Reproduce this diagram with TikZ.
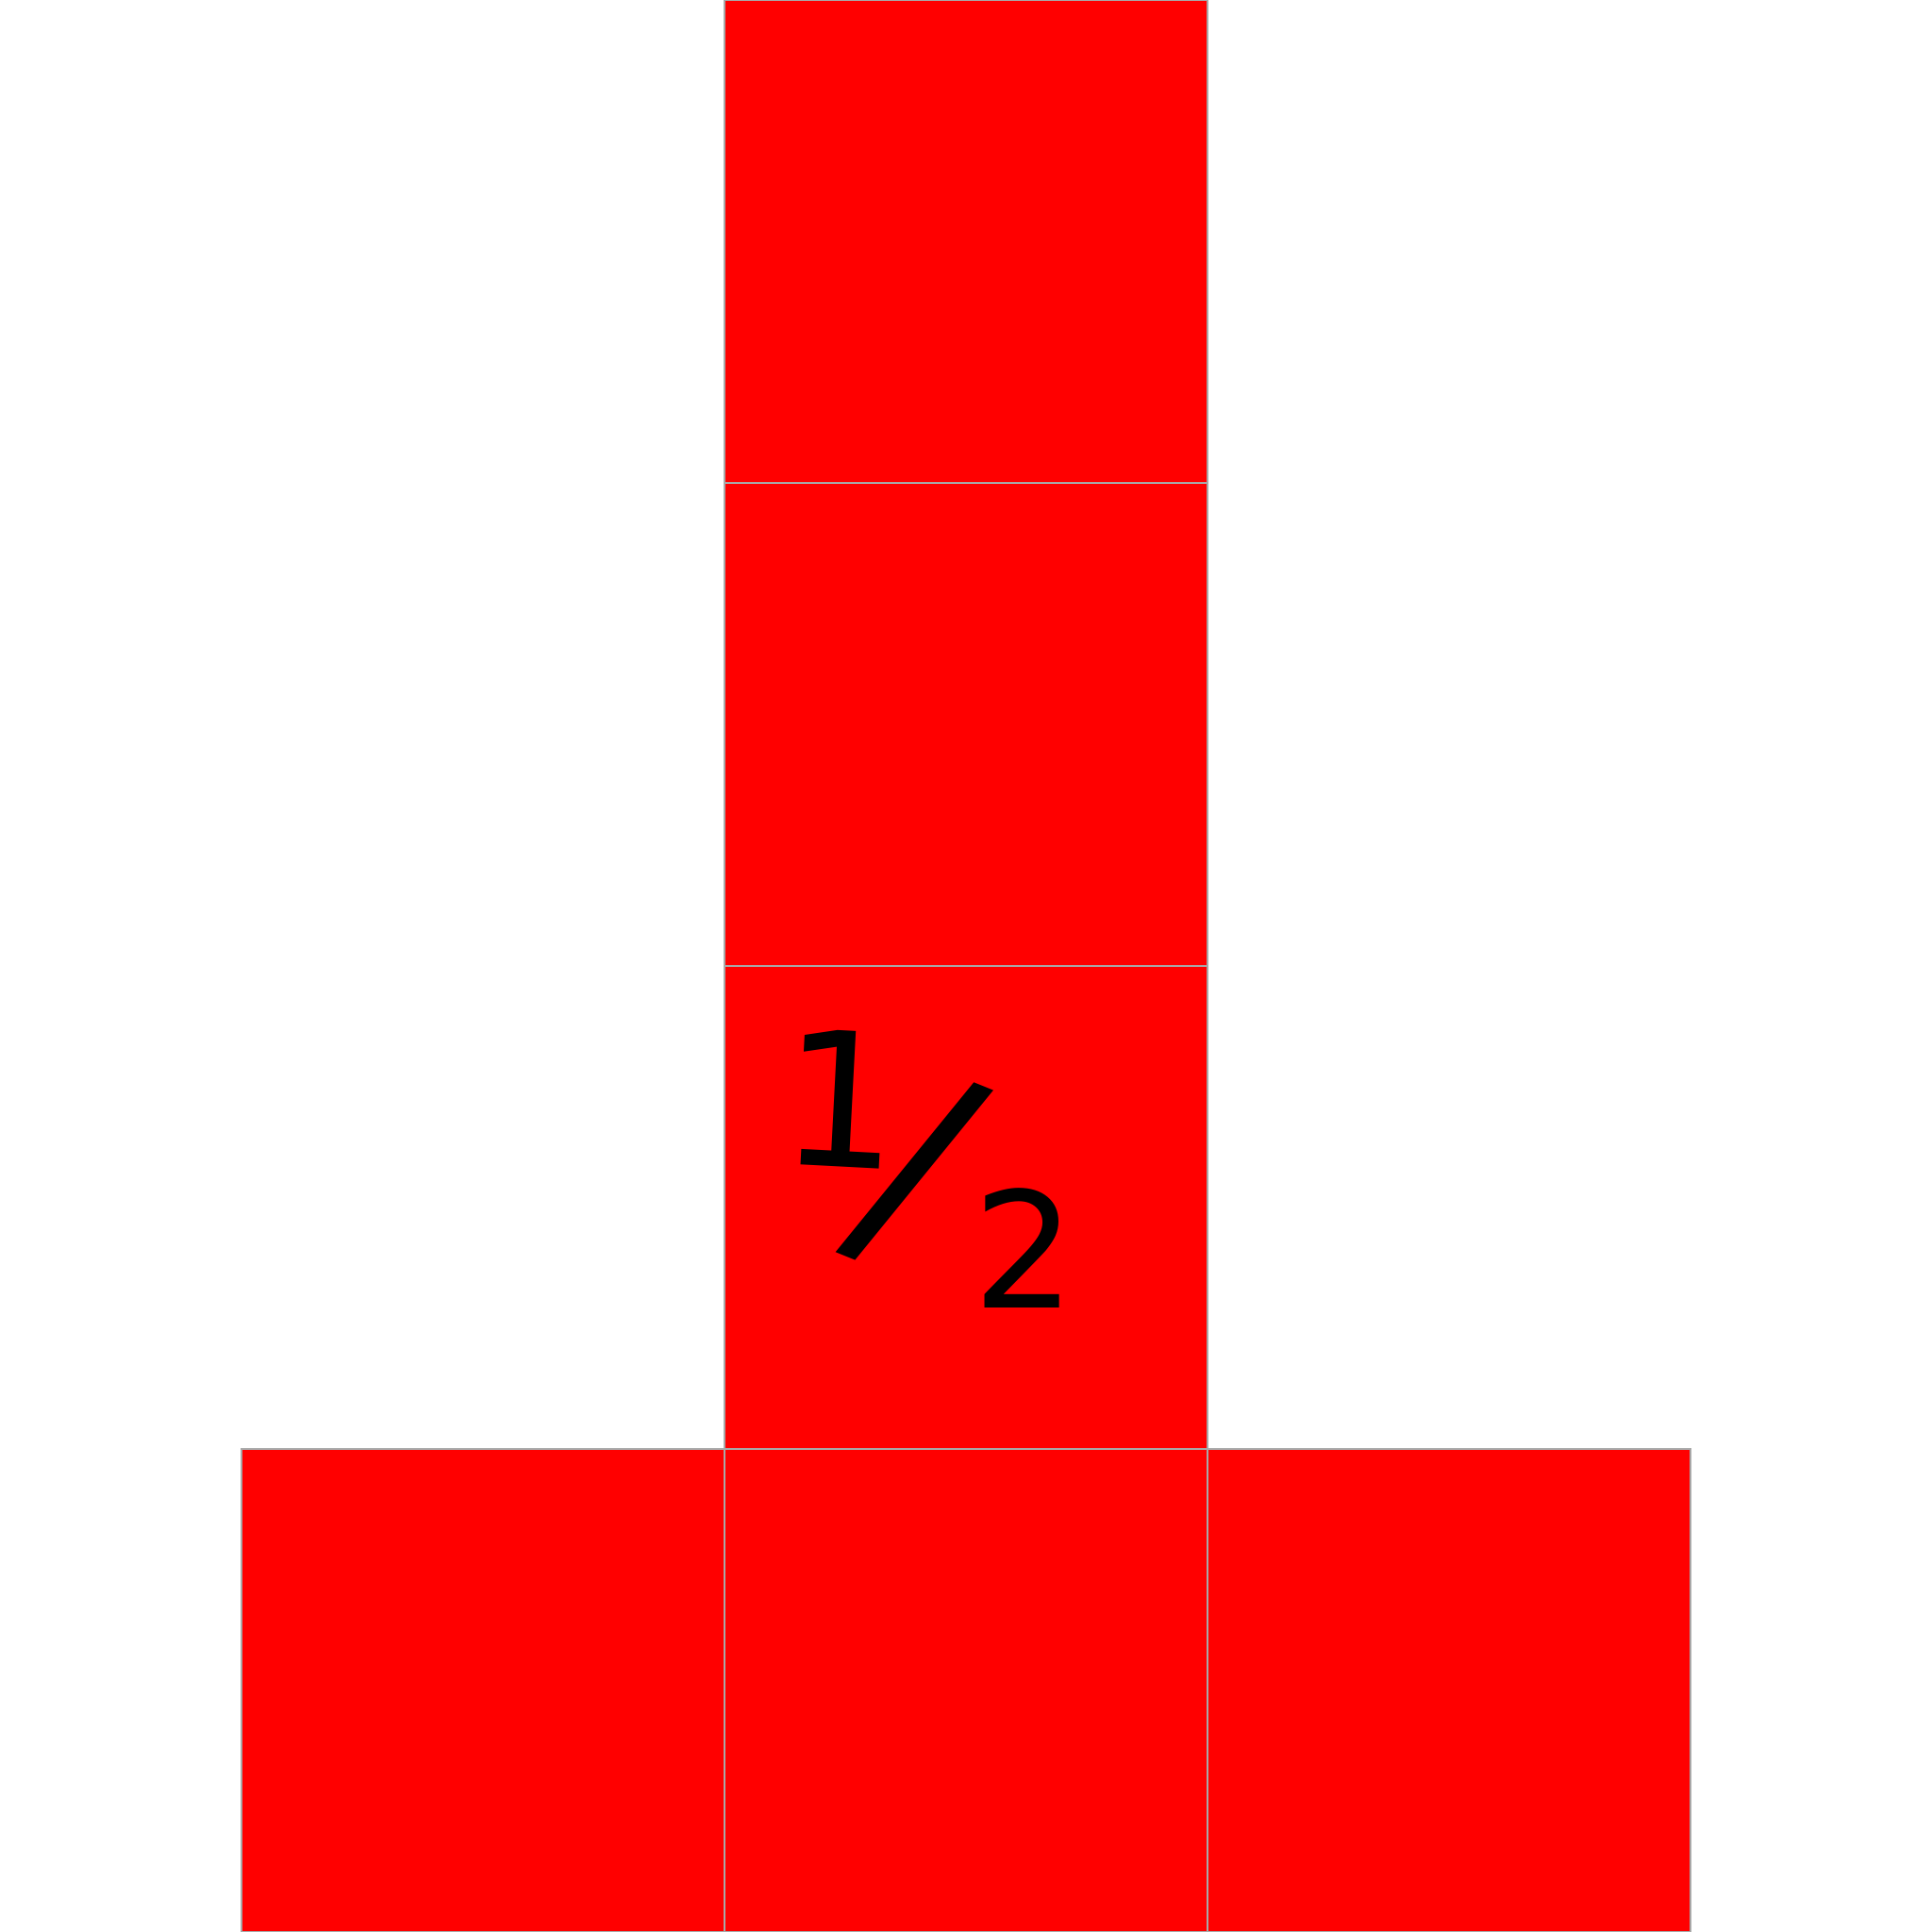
\documentclass[tikz,border=0pt]{standalone}
\usepackage{fontspec}
\newfontfamily\handfont{DejaVu Sans}
\usetikzlibrary{positioning}
\definecolor{cellRed}{HTML}{FF0000}
\definecolor{cellEdge}{HTML}{A8A8A8}

\begin{document}
\begin{tikzpicture}[node distance=0cm, every node/.style={inner sep=0pt, outer sep=0pt},
    cell/.style={draw=cellEdge, line width=0.3pt, fill=cellRed, minimum size=2cm},
    hand/.style={font=\handfont, text=black}]
    \useasboundingbox (0,0) rectangle (8,8);
    % bottom row
    \node[cell] (base) at (4,1) {};
    \node[cell, left=of base] (baseL) {};
    \node[cell, right=of base] (baseR) {};
    % the column
    \node[cell, above=of base] (half) {};
    \node[cell, above=of half] (upper) {};
    \node[cell, above=of upper] (top) {};
    % the fraction in the third cell
    \node[hand, font=\handfont\fontsize{22pt}{22pt}\selectfont, rotate=-3] (one) at ([shift={(-0.52,0.45)}]half.center) {1};
    \node[hand, font=\handfont\fontsize{30pt}{30pt}\selectfont, rotate=-22] (slash) at ([shift={(-0.21,0.15)}]half.center) {/};
    \node[hand, font=\handfont\fontsize{19pt}{19pt}\selectfont] (two) at ([shift={(0.24,-0.17)}]half.center) {2};
\end{tikzpicture}
\end{document}
